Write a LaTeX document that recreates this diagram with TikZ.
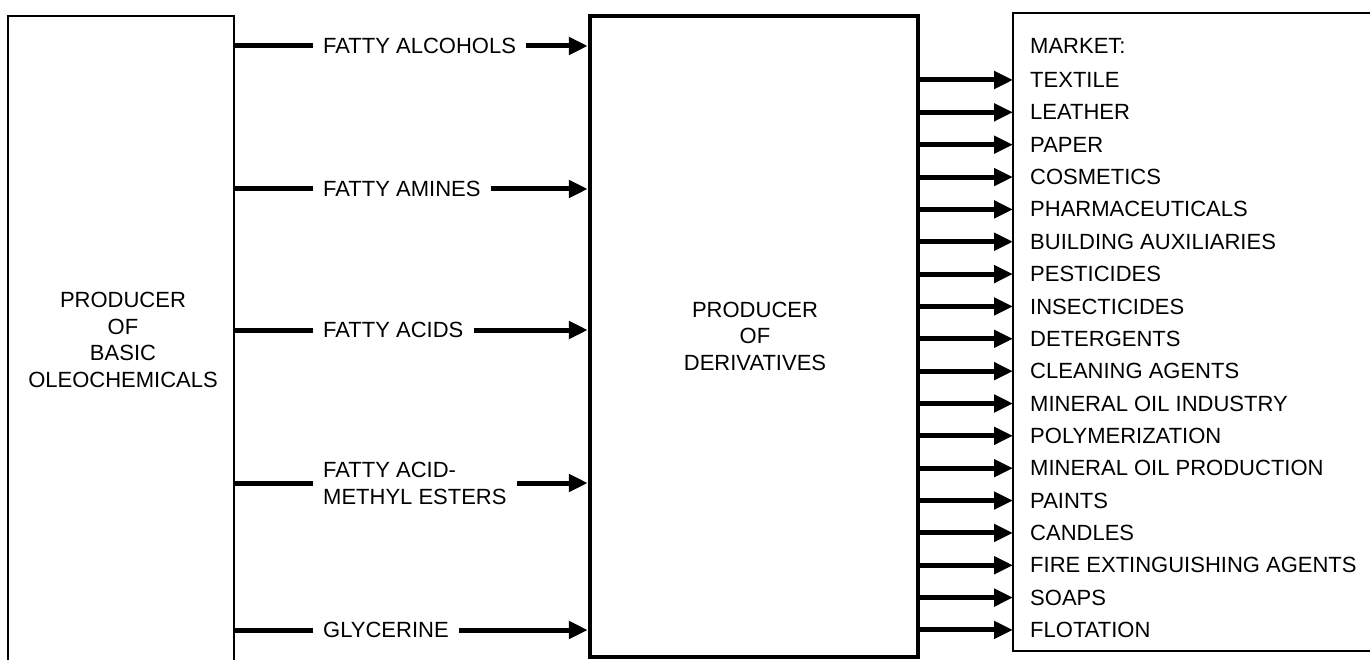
\documentclass[tikz,border=0pt]{standalone}
\usepackage{fontspec}
\setmainfont{Liberation Sans}
\usetikzlibrary{arrows.meta}
\tikzset{
  thinbox/.style={draw, line width=1.8pt, inner sep=0pt},
  thickbox/.style={draw, line width=4.5pt, inner sep=0pt},
  txt/.style={font=\fontsize{22}{26.5}\selectfont, inner sep=0pt, align=center},
  lbl/.style={font=\fontsize{22}{27}\selectfont, inner sep=0pt, align=left, anchor=west},
  feed/.style={line width=5pt, -{Triangle[length=19pt,width=17pt]}},
  stub/.style={line width=5pt}
}
\begin{document}
\begin{tikzpicture}[x=1pt,y=-1pt]
\useasboundingbox (0,0) rectangle (1370,660);
\clip (0,0) rectangle (1370,660);
% left box (runs off the bottom)
\node[thinbox, minimum width=226pt, minimum height=665pt] (L) at (121,348.5) {};
\node[txt] (Lt) at (123,340) {PRODUCER\\OF\\BASIC\\OLEOCHEMICALS};
% middle box
\node[thickbox, minimum width=328pt, minimum height=641pt] (M) at (754,336.5) {};
\node[txt] (Mt) at (755,336) {PRODUCER\\OF\\DERIVATIVES};
% right box (runs off the right)
\coordinate (Rtl) at (1013,13);
\coordinate (Rtr) at (1375,13);
\coordinate (Rbl) at (1013,651);
\coordinate (Rbr) at (1375,651);
\draw[line width=1.8pt] (Rtr) -- (Rtl) -- (Rbl) -- (Rbr);
\node[lbl] (mk) at (1030,46) {MARKET:};
% feeds
\foreach \n/\y/\t in {a/46/{FATTY ALCOHOLS}, b/189/{FATTY AMINES}, c/330/{FATTY ACIDS}, d/483/{FATTY ACID-\\METHYL ESTERS}, e/630/{GLYCERINE}} {
  \node[lbl, inner xsep=10pt] (f\n) at (313,\y) {\t};
  \coordinate (s\n) at (L.east |- f\n.west);
  \coordinate (t\n) at (M.west |- f\n.east);
  \draw[stub] (s\n) -- (f\n.west);
  \draw[feed] (f\n.east) -- (t\n);
}
% markets
\foreach \t [count=\i] in {TEXTILE, LEATHER, PAPER, COSMETICS, PHARMACEUTICALS, BUILDING AUXILIARIES, PESTICIDES, INSECTICIDES, DETERGENTS, CLEANING AGENTS, MINERAL OIL INDUSTRY, POLYMERIZATION, MINERAL OIL PRODUCTION, PAINTS, CANDLES, FIRE EXTINGUISHING AGENTS, SOAPS, FLOTATION} {
  \pgfmathsetmacro{\yy}{80+(\i-1)*32.35}
  \node[lbl] (m\i) at (1030,\yy) {\t};
  \coordinate (o\i) at (M.east |- m\i.west);
  \coordinate (p\i) at (Rtl |- m\i.west);
  \draw[feed] (o\i) -- (p\i);
}
\end{tikzpicture}
\end{document}
